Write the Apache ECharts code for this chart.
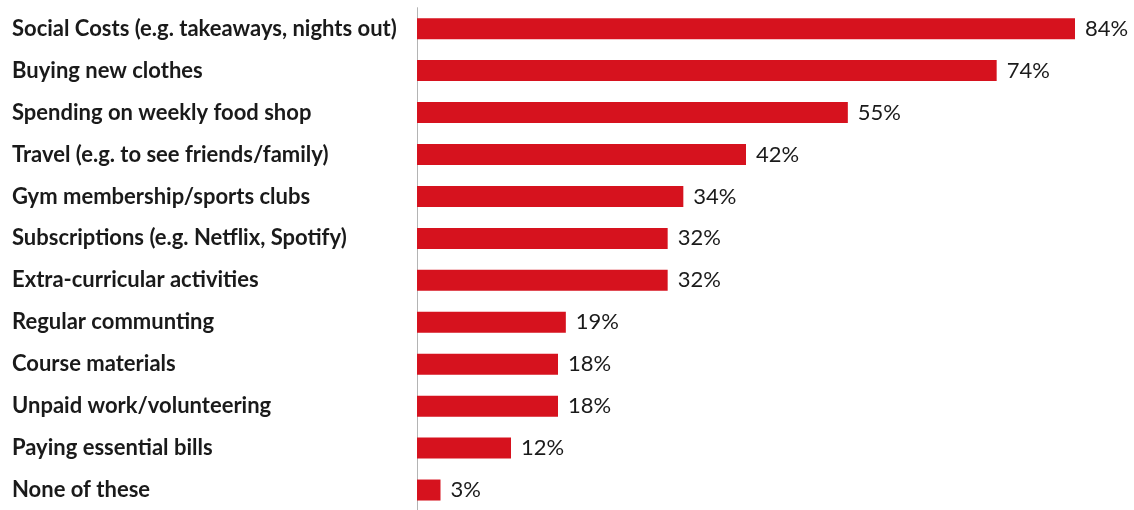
<!DOCTYPE html>
<html>
<head>
<meta charset="utf-8">
<script src="https://cdn.jsdelivr.net/npm/echarts@6/dist/echarts.min.js"></script>
<style>
  html, body { margin: 0; padding: 0; background: #fff; }
  #chart { width: 1134px; height: 510px; }
</style>
</head>
<body>
<div id="chart"></div>
<script>
// Share of respondents cutting back on each spending area (%)
const categories = [
  "Social Costs (e.g. takeaways, nights out)",
  "Buying new clothes",
  "Spending on weekly food shop",
  "Travel (e.g. to see friends/family)",
  "Gym membership/sports clubs",
  "Subscriptions (e.g. Netflix, Spotify)",
  "Extra-curricular activities",
  "Regular communting",
  "Course materials",
  "Unpaid work/volunteering",
  "Paying essential bills",
  "None of these"
];
const values = [84, 74, 55, 42, 34, 32, 32, 19, 18, 18, 12, 3];

const chart = echarts.init(document.getElementById('chart'), null, { renderer: 'canvas' });
chart.setOption({
  animation: false,
  grid: {
    left: 417, top: 7.7, width: 705, height: 503.3,
    containLabel: false, outerBoundsMode: 'none'
  },
  xAxis: {
    type: 'value', min: 0, max: 90,
    show: false
  },
  yAxis: {
    type: 'category',
    data: categories,
    inverse: true,
    axisLine: { show: true, lineStyle: { color: '#b4b4b4', width: 1 } },
    axisTick: { show: false },
    axisLabel: {
      align: 'left',
      margin: 405,
      color: '#1a1a1a',
      fontFamily: 'Lato',
      fontWeight: 'bold',
      fontSize: 22
    }
  },
  series: [{
    type: 'bar',
    data: values,
    barWidth: 21,
    itemStyle: { color: '#d6121e' },
    label: {
      show: true,
      position: 'right',
      distance: 10,
      formatter: '{c}%',
      color: '#1a1a1a',
      fontFamily: 'Lato',
      fontSize: 22
    }
  }]
});
</script>
</body>
</html>
